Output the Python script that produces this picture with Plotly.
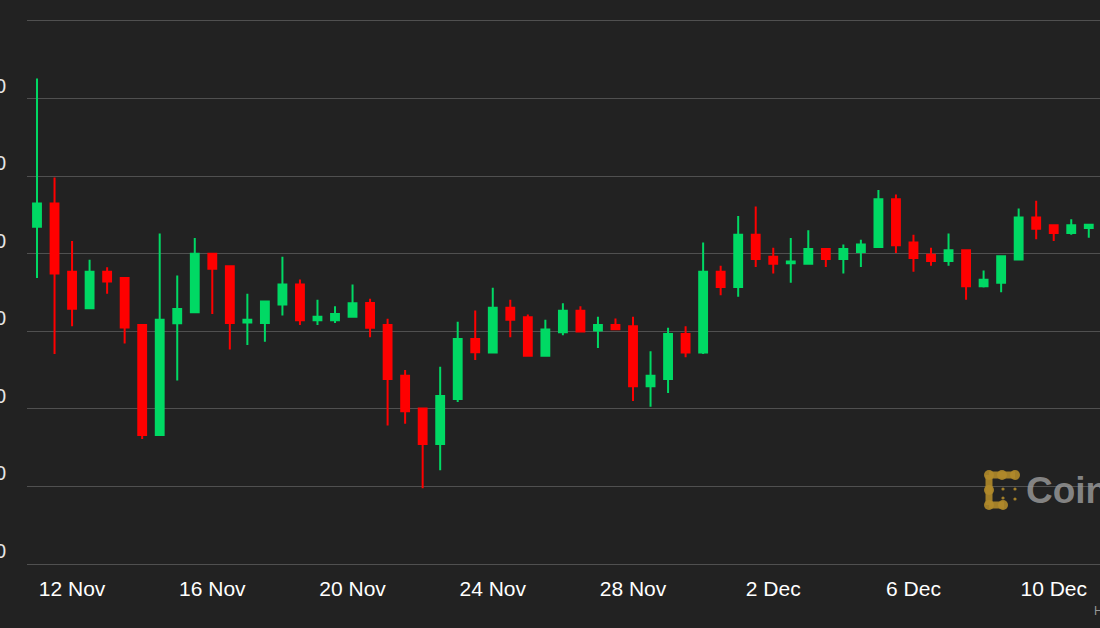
import plotly.graph_objects as go
import pandas as pd

# 12-hour candles, 11 Nov 2022 00:00 .. 11 Dec 2022 00:00
times = pd.date_range("2022-11-11 00:00", periods=61, freq="12h")

opens = [17174, 17323, 16884, 16649, 16884, 16843, 16541, 15831, 16552, 16623,
         17000, 16920, 16556, 16554, 16673, 16802, 16571, 16571, 16593, 16683,
         16541, 16214, 16003, 15773, 16063, 16451, 16363, 16651, 16591, 16343,
         16494, 16632, 16505, 16541, 16533, 16145, 16193, 16483, 16363, 16884,
         16785, 17123, 16981, 16938, 16935, 17030, 16966, 17011, 17043, 17351,
         17073, 16994, 16953, 17022, 16791, 16813, 16963, 17233, 17183, 17134,
         17166]
highs = [18130, 17491, 17082, 16961, 16912, 16843, 16541, 17131, 16860, 17101,
         17000, 16925, 16742, 16692, 16981, 16834, 16703, 16662, 16802, 16709,
         16580, 16251, 16009, 16272, 16561, 16634, 16780, 16703, 16608, 16574,
         16681, 16662, 16593, 16582, 16593, 16371, 16522, 16533, 17073, 16922,
         17243, 17304, 17039, 17101, 17151, 17030, 17060, 17090, 17411, 17381,
         17123, 17039, 17131, 17022, 16892, 16983, 17291, 17342, 17183, 17222,
         17192]
lows = [16843, 16354, 16533, 16643, 16742, 16421, 15805, 15831, 16182, 16623,
        16612, 16382, 16412, 16432, 16602, 16541, 16541, 16554, 16593, 16462,
        15893, 15904, 15488, 15605, 16044, 16315, 16363, 16462, 16343, 16343,
        16475, 16498, 16393, 16513, 16050, 16014, 16102, 16332, 16354, 16733,
        16722, 16914, 16873, 16813, 16935, 16914, 16873, 16914, 17043, 17004,
        16884, 16922, 16922, 16703, 16783, 16752, 16963, 17093, 17082, 17123,
        17103]
closes = [17323, 16873, 16645, 16884, 16821, 16524, 15831, 16574, 16643, 17000,
          16903, 16554, 16574, 16692, 16802, 16571, 16593, 16612, 16681, 16522,
          16193, 15984, 15773, 16083, 16451, 16365, 16651, 16574, 16343, 16511,
          16632, 16498, 16541, 16513, 16145, 16214, 16483, 16363, 16884, 16785,
          17123, 16966, 16935, 16950, 17030, 16966, 17030, 17060, 17351, 17054,
          16972, 16953, 17022, 16791, 16832, 16983, 17233, 17161, 17134, 17183,
          17187]

x_tick_vals = ["2022-11-12", "2022-11-16", "2022-11-20", "2022-11-24",
               "2022-11-28", "2022-12-02", "2022-12-06", "2022-12-10"]
x_tick_text = ["12 Nov", "16 Nov", "20 Nov", "24 Nov",
               "28 Nov", "2 Dec", "6 Dec", "10 Dec"]
y_tick_vals = [15000, 15500, 16000, 16500, 17000, 17500, 18000, 18500]
y_tick_text = ["$15,000", "$15,500", "$16,000", "$16,500",
               "$17,000", "$17,500", "$18,000", ""]

GREEN = "#00d964"
RED = "#ff0000"
BG = "#222222"
GRID = "#505050"

W, H = 1100, 628
L, R, T, B = 27, 0, 21, 64

fig = go.Figure(go.Candlestick(
    x=times, open=opens, high=highs, low=lows, close=closes,
    increasing=dict(line=dict(color=GREEN, width=2), fillcolor=GREEN),
    decreasing=dict(line=dict(color=RED, width=2), fillcolor=RED),
    whiskerwidth=0,
    hoverinfo="skip",
))

def px_to_paper(px, py):
    return (px - L) / (W - L - R), (H - B - py) / (H - T - B)

shapes = []
GOLD = "rgba(176,138,42,0.9)"
# CoinDesk-like watermark logo (decoration)
segs = [((989, 475), (1015, 475)), ((989, 475), (989, 505)), ((989, 505), (1004, 505))]
for (a, b) in segs:
    x0, y0 = px_to_paper(*a)
    x1, y1 = px_to_paper(*b)
    shapes.append(dict(type="line", xref="paper", yref="paper", x0=x0, y0=y0, x1=x1, y1=y1,
                       line=dict(color=GOLD, width=7), layer="above"))
for (cx, cy, r) in [(989, 475, 5), (1002, 475, 5), (1015, 475, 5), (989, 490, 5),
                    (989, 505, 5), (1003, 505, 5),
                    (1003, 489, 1.6), (1015, 489, 1.6), (1003, 498, 1.6), (1015, 499, 1.6)]:
    x0, y0 = px_to_paper(cx - r, cy + r)
    x1, y1 = px_to_paper(cx + r, cy - r)
    shapes.append(dict(type="circle", xref="paper", yref="paper", x0=x0, y0=y0, x1=x1, y1=y1,
                       fillcolor=GOLD, line=dict(width=0), layer="above"))

wx, wy = px_to_paper(1024, 490)
hx, hy = px_to_paper(1092, 611)

fig.update_layout(
    width=W, height=H,
    margin=dict(l=L, r=R, t=T, b=B, pad=0),
    paper_bgcolor=BG, plot_bgcolor=BG,
    showlegend=False,
    font=dict(family="Liberation Sans, Arial, sans-serif", color="#ffffff"),
    boxgap=0.36,
    xaxis=dict(
        type="date",
        range=["2022-11-10 17:09", "2022-12-11 07:41"],
        rangeslider=dict(visible=False),
        showgrid=False, zeroline=False,
        showline=True, mirror=True, linecolor=GRID, linewidth=1,
        tickvals=x_tick_vals, ticktext=x_tick_text,
        tickfont=dict(size=21, color="#ffffff"),
        ticks="", ticklabelstandoff=6,
    ),
    yaxis=dict(
        range=[15000, 18500],
        tickvals=y_tick_vals, ticktext=y_tick_text,
        showgrid=True, gridcolor=GRID, gridwidth=1,
        zeroline=False, showline=False,
        ticks="", automargin=False,
        tickfont=dict(size=20, color="#e6e6e6"),
        ticklabelstandoff=20, ticklabelshift=-13,
    ),
    shapes=shapes,
    annotations=[
        dict(xref="paper", yref="paper", x=wx, y=wy, xanchor="left", yanchor="middle",
             text="<b>CoinDesk</b>", showarrow=False,
             font=dict(size=37, color="rgba(150,150,150,0.85)",
                       family="Liberation Sans, Arial, sans-serif")),
        dict(xref="paper", yref="paper", x=hx, y=hy, xanchor="left", yanchor="middle",
             text="Highcharts.com", showarrow=False,
             font=dict(size=12, color="#999999")),
    ],
)

fig.write_html("out.html")
